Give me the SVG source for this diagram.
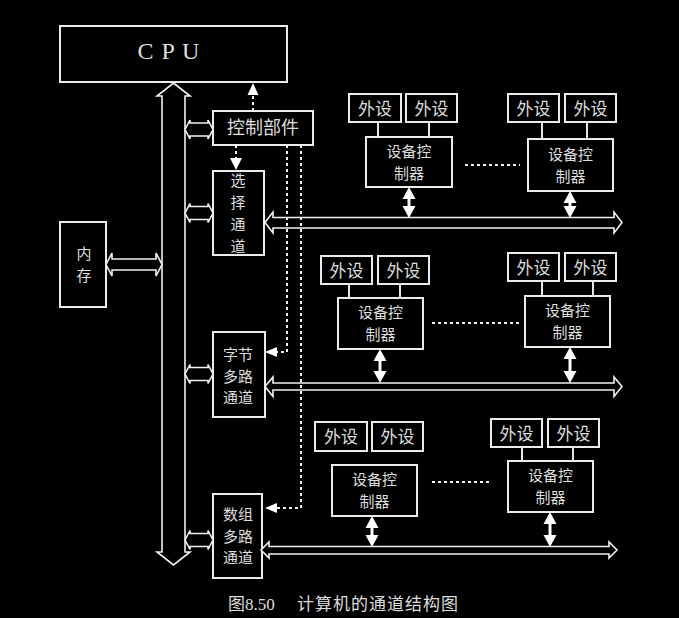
<svg xmlns="http://www.w3.org/2000/svg" width="679" height="618" viewBox="0 0 679 618">
<style>
.bx{fill:#000;stroke:#ececec;stroke-width:2}
.ln{stroke:#e6e6e6;stroke-width:2;fill:none}
.ds{stroke:#f0f0f0;stroke-width:2;fill:none;stroke-dasharray:3,3}
.hl{fill:#000;stroke:#f2f2f2;stroke-width:1.6;stroke-linejoin:miter}
.sd{fill:#fff;stroke:none}
.t{font-family:"Noto Sans CJK SC","Noto Sans",sans-serif;font-size:17px;fill:#dedede;text-anchor:middle}
.s{font-size:15px}
</style>
<rect x="0" y="0" width="679" height="618" fill="#000"/>

<g id="cpu"><rect class="bx" x="60" y="26" width="227" height="56"/><text x="169" y="59" style="font-family:'Liberation Serif',serif;font-size:24px;fill:#dedede;text-anchor:middle;letter-spacing:1px">C P U</text></g>
<g id="control"><rect class="bx" x="213" y="111" width="100" height="34"/><text class="t" x="263" y="134" style="font-size:18px">控制部件</text></g>
<g id="select"><rect class="bx" x="213" y="171" width="51" height="84"/><text class="t s"><tspan x="238" y="186.3">选</tspan><tspan x="238" y="208.1">择</tspan><tspan x="238" y="229.8">通</tspan><tspan x="238" y="251.6">道</tspan></text></g>
<g id="memory"><rect class="bx" x="60" y="222" width="46" height="85"/><text class="t s"><tspan x="84" y="258.8">内</tspan><tspan x="84" y="280.6">存</tspan></text></g>
<g id="byte"><rect class="bx" x="213" y="332" width="52" height="85"/><text class="t s"><tspan x="238" y="359.7">字节</tspan><tspan x="238" y="381.5">多路</tspan><tspan x="238" y="403.2">通道</tspan></text></g>
<g id="block"><rect class="bx" x="213" y="494" width="49" height="84"/><text class="t s"><tspan x="238" y="519.7">数组</tspan><tspan x="238" y="541.5">多路</tspan><tspan x="238" y="563.3">通道</tspan></text></g>

<g id="p1a"><rect class="bx" x="349" y="94" width="52" height="28"/><text class="t" x="375" y="114.5">外设</text></g>
<g id="p1b"><rect class="bx" x="406" y="94" width="51" height="28"/><text class="t" x="431.5" y="114.5">外设</text></g>
<g id="c1"><rect class="bx" x="366" y="137" width="86" height="50"/><text class="t s"><tspan x="409" y="156.8">设备控</tspan><tspan x="409" y="178.6">制器</tspan></text></g>
<g id="p1c"><rect class="bx" x="508" y="94" width="51" height="28"/><text class="t" x="533.5" y="114.5">外设</text></g>
<g id="p1d"><rect class="bx" x="565" y="94" width="51" height="28"/><text class="t" x="590.5" y="114.5">外设</text></g>
<g id="c2"><rect class="bx" x="528" y="139" width="85" height="52"/><text class="t s"><tspan x="570.5" y="159.8">设备控</tspan><tspan x="570.5" y="181.6">制器</tspan></text></g>

<g id="p2a"><rect class="bx" x="321" y="256" width="51" height="28"/><text class="t" x="346.5" y="276.5">外设</text></g>
<g id="p2b"><rect class="bx" x="378" y="256" width="51" height="28"/><text class="t" x="403.5" y="276.5">外设</text></g>
<g id="c3"><rect class="bx" x="338" y="298" width="85" height="51"/><text class="t s"><tspan x="380.5" y="318.3">设备控</tspan><tspan x="380.5" y="340.1">制器</tspan></text></g>
<g id="p2c"><rect class="bx" x="508" y="253" width="51" height="28"/><text class="t" x="533.5" y="273.5">外设</text></g>
<g id="p2d"><rect class="bx" x="565" y="253" width="51" height="28"/><text class="t" x="590.5" y="273.5">外设</text></g>
<g id="c4"><rect class="bx" x="525" y="296" width="85" height="51"/><text class="t s"><tspan x="567.5" y="316.3">设备控</tspan><tspan x="567.5" y="338.1">制器</tspan></text></g>

<g id="p3a"><rect class="bx" x="315" y="422" width="52" height="29"/><text class="t" x="341" y="443">外设</text></g>
<g id="p3b"><rect class="bx" x="372" y="422" width="51" height="29"/><text class="t" x="397.5" y="443">外设</text></g>
<g id="c5"><rect class="bx" x="332" y="465" width="85" height="51"/><text class="t s"><tspan x="374.5" y="485.3">设备控</tspan><tspan x="374.5" y="507.1">制器</tspan></text></g>
<g id="p3c"><rect class="bx" x="491" y="419" width="51" height="28"/><text class="t" x="516.5" y="439.5">外设</text></g>
<g id="p3d"><rect class="bx" x="548" y="419" width="51" height="28"/><text class="t" x="573.5" y="439.5">外设</text></g>
<g id="c6"><rect class="bx" x="508" y="461" width="85" height="51"/><text class="t s"><tspan x="550.5" y="481.3">设备控</tspan><tspan x="550.5" y="503.1">制器</tspan></text></g>

<g id="connectors">
<polygon class="hl" points="173.5,83 190,96 185,96 185,552 190,552 173.5,565 157,552 162,552 162,96 157,96"/>
<polygon class="hl" points="185,129.5 190,120 190,123 208,123 208,120 213,129.5 208,139 208,136 190,136 190,139"/>
<polygon class="hl" points="185,213 190,203.5 190,206.5 208,206.5 208,203.5 213,213 208,222.5 208,219.5 190,219.5 190,222.5"/>
<polygon class="hl" points="185,374 190,364.5 190,367.5 208,367.5 208,364.5 213,374 208,383.5 208,380.5 190,380.5 190,383.5"/>
<polygon class="hl" points="185,540 190,530.5 190,533.5 208,533.5 208,530.5 213,540 208,549.5 208,546.5 190,546.5 190,549.5"/>
<polygon class="hl" points="106,264.5 112,253 112,259 156,259 156,253 162,264.5 156,276 156,270 112,270 112,276"/>
<polygon class="hl" points="265,222.5 273,212 273,217.5 614,217.5 614,212 622,222.5 614,233 614,228 273,228 273,233"/>
<polygon class="hl" points="265,386.5 273,377 273,383 614,383 614,377 622,386.5 614,396.5 614,390 273,390 273,396.5"/>
<polygon class="hl" points="261,550 269,542 269,546.5 609,546.5 609,542 617,550 609,558 609,554 269,554 269,558"/>

<line class="ln" x1="378" y1="122" x2="378" y2="137"/><line class="ln" x1="429" y1="122" x2="429" y2="137"/>
<line class="ln" x1="542" y1="122" x2="542" y2="139"/><line class="ln" x1="587" y1="122" x2="587" y2="139"/>
<line class="ln" x1="349" y1="284" x2="349" y2="298"/><line class="ln" x1="400" y1="284" x2="400" y2="298"/>
<line class="ln" x1="542" y1="281" x2="542" y2="296"/><line class="ln" x1="593" y1="281" x2="593" y2="296"/>
<line class="ln" x1="522" y1="447" x2="522" y2="461"/><line class="ln" x1="573" y1="447" x2="573" y2="461"/>

<polygon class="sd" points="409,187 415.5,199 410.5,199 410.5,206 415.5,206 409,218 402.5,206 407.5,206 407.5,199 402.5,199"/>
<polygon class="sd" points="570,191 576.5,203 571.5,203 571.5,206 576.5,206 570,218 563.5,206 568.5,206 568.5,203 563.5,203"/>
<polygon class="sd" points="380,349 386.5,361 381.5,361 381.5,371 386.5,371 380,383 373.5,371 378.5,371 378.5,361 373.5,361"/>
<polygon class="sd" points="570,347 576.5,359 571.5,359 571.5,371 576.5,371 570,383 563.5,371 568.5,371 568.5,359 563.5,359"/>
<polygon class="sd" points="372,516 378.5,528 373.5,528 373.5,535 378.5,535 372,547 365.5,535 370.5,535 370.5,528 365.5,528"/>
<polygon class="sd" points="550,512 556.5,524 551.5,524 551.5,535 556.5,535 550,547 543.5,535 548.5,535 548.5,524 543.5,524"/>

<line class="ds" x1="465" y1="165" x2="520" y2="165"/>
<line class="ds" x1="432" y1="323" x2="522" y2="323"/>
<line class="ds" x1="432" y1="482" x2="492" y2="482"/>

<line class="ds" x1="253" y1="111" x2="253" y2="95"/><polygon class="sd" points="253,83 258.5,95 247.5,95"/>
<line class="ds" x1="236" y1="145" x2="236" y2="158"/><polygon class="sd" points="236,170 242,158 230,158"/>
<polyline class="ds" points="287,145 287,352 277,352"/><polygon class="sd" points="265,352 277,347 277,357"/>
<polyline class="ds" points="301,145 301,508 277,508"/><polygon class="sd" points="265,508 277,503 277,513"/>
</g>

<text x="228" y="610" style="font-family:'Liberation Serif','Noto Sans CJK SC',serif;font-size:17px;fill:#dedede">图8.50<tspan x="297" style="font-family:'Noto Sans CJK SC',sans-serif" textLength="161">计算机的通道结构图</tspan></text>
</svg>
